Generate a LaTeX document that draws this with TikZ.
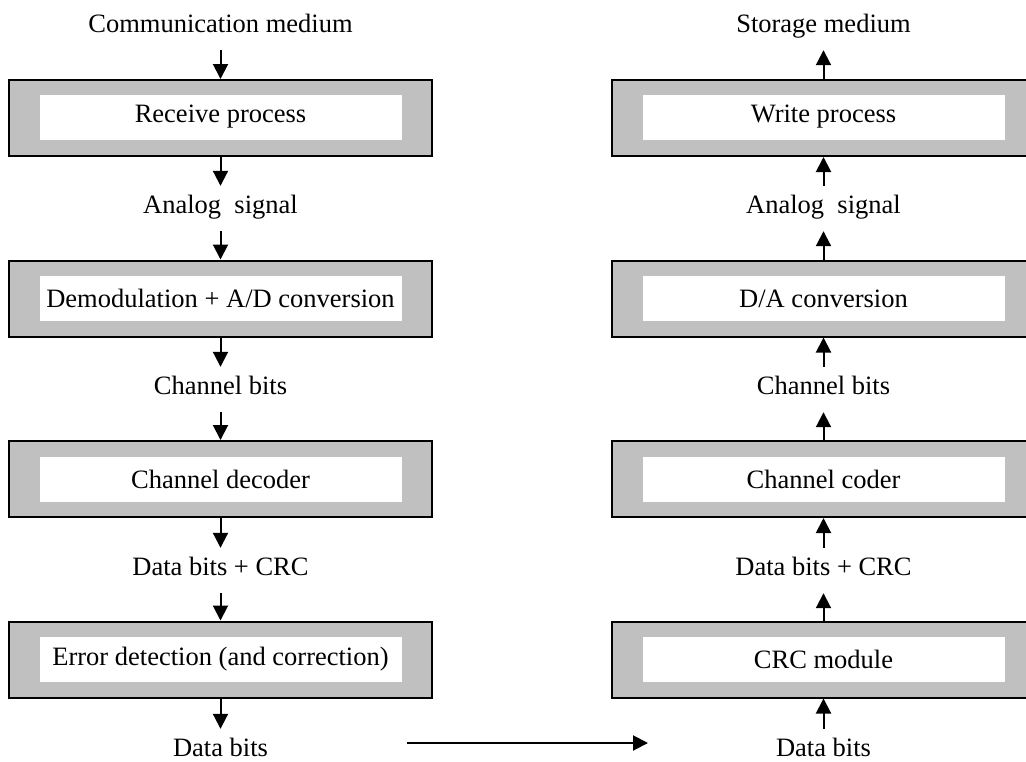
\documentclass[tikz,border=0pt]{standalone}
\usepackage{fontspec}
\setmainfont{Liberation Serif}
\usetikzlibrary{arrows.meta}
\definecolor{boxgray}{HTML}{C0C0C0}
\begin{document}
\begin{tikzpicture}[x=1pt,y=-1pt,
  outerbox/.style={draw=black, line width=2pt, fill=boxgray, minimum width=423pt, minimum height=76pt, inner sep=0pt},
  innerbox/.style={fill=white, minimum width=362pt, minimum height=45pt, inner sep=0pt, font=\fontsize{26.5}{30}\selectfont},
  lbl/.style={inner sep=0pt, text height=27pt, text depth=18pt, font=\fontsize{26.5}{30}\selectfont},
  arr/.style={line width=2pt, -{Triangle[length=15pt,width=15pt]}}]
\useasboundingbox (0,0) rectangle (1026,761);
\clip (0,0) rectangle (1026,761);
% left column
\node[lbl] (cm) at (220.5,27.5) {Communication medium};
\node[outerbox] (b1) at (220.5,118) {};
\node[innerbox] (i1) at (220.5,117) {Receive process};
\node[lbl] (as1) at (220.5,208.5) {Analog\ \ signal};
\node[outerbox] (b2) at (220.5,298.5) {};
\node[innerbox] (i2) at (220.5,298.5) {Demodulation + A/D conversion};
\node[lbl] (cb1) at (220.5,389.5) {Channel bits};
\node[outerbox] (b3) at (220.5,479) {};
\node[innerbox] (i3) at (220.5,479) {Channel decoder};
\node[lbl] (dc1) at (220.5,570.5) {Data bits + CRC};
\node[outerbox] (b4) at (220.5,659.5) {};
\node[innerbox] (i4) at (220.5,659.5) {Error detection (and correction)};
\node[lbl] (db1) at (220.5,751.5) {Data bits};
% right column
\node[lbl] (sm) at (823.5,27.5) {Storage medium};
\node[outerbox] (b5) at (823.5,118) {};
\node[innerbox] (i5) at (823.5,117) {Write process};
\node[lbl] (as2) at (823.5,208.5) {Analog\ \ signal};
\node[outerbox] (b6) at (823.5,298.5) {};
\node[innerbox] (i6) at (823.5,298.5) {D/A conversion};
\node[lbl] (cb2) at (823.5,389.5) {Channel bits};
\node[outerbox] (b7) at (823.5,479) {};
\node[innerbox] (i7) at (823.5,479) {Channel coder};
\node[lbl] (dc2) at (823.5,570.5) {Data bits + CRC};
\node[outerbox] (b8) at (823.5,659.5) {};
\node[innerbox] (i8) at (823.5,659.5) {CRC module};
\node[lbl] (db2) at (823.5,751.5) {Data bits};
% left arrows (down)
\draw[arr] (cm.south) -- (b1.north);
\draw[arr] (b1.south) -- (as1.north);
\draw[arr] (as1.south) -- (b2.north);
\draw[arr] (b2.south) -- (cb1.north);
\draw[arr] (cb1.south) -- (b3.north);
\draw[arr] (b3.south) -- (dc1.north);
\draw[arr] (dc1.south) -- (b4.north);
\draw[arr] (b4.south) -- (db1.north);
% right arrows (up)
\draw[arr] (b5.north) -- (sm.south);
\draw[arr] (as2.north) -- (b5.south);
\draw[arr] (b6.north) -- (as2.south);
\draw[arr] (cb2.north) -- (b6.south);
\draw[arr] (b7.north) -- (cb2.south);
\draw[arr] (dc2.north) -- (b7.south);
\draw[arr] (b8.north) -- (dc2.south);
\draw[arr] (db2.north) -- (b8.south);
% horizontal arrow
\coordinate (h1) at (407,743);
\coordinate (h2) at (648,743);
\draw[arr] (h1) -- (h2);
\end{tikzpicture}
\end{document}
